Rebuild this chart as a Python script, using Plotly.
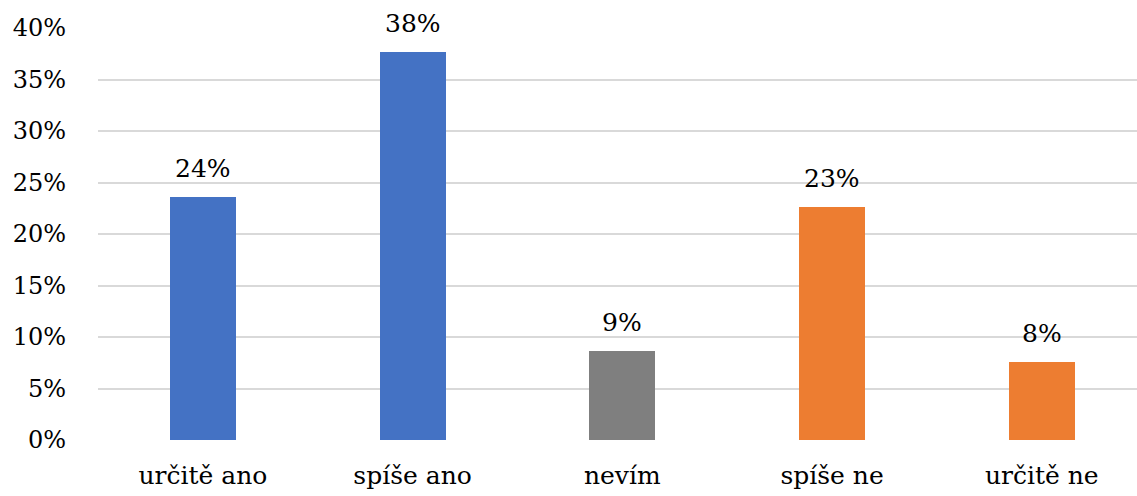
import plotly.graph_objects as go

# Survey answers and their shares
categories = ["určitě ano", "spíše ano", "nevím", "spíše ne", "určitě ne"]
shares = [0.236, 0.377, 0.086, 0.226, 0.076]
bar_colors = ["#4472C4", "#4472C4", "#7F7F7F", "#ED7D31", "#ED7D31"]
tick_values = [0, 0.05, 0.10, 0.15, 0.20, 0.25, 0.30, 0.35, 0.40]
tick_labels = ["0%", "5%", "10%", "15%", "20%", "25%", "30%", "35%", "40%"]

FONT = "DejaVu Serif"

fig = go.Figure(
    go.Bar(
        x=categories,
        y=shares,
        marker=dict(color=bar_colors, line=dict(width=0)),
        width=0.315,
        hoverinfo="skip",
    )
)

# Value labels above each bar
for cat, val in zip(categories, shares):
    fig.add_annotation(
        x=cat, y=val, text=f"{val:.0%}", showarrow=False,
        yanchor="bottom", yshift=12,
        font=dict(family=FONT, size=25, color="#000000"),
    )

fig.update_layout(
    width=1137, height=496,
    margin=dict(l=98, r=0, t=28, b=56),
    plot_bgcolor="#FFFFFF", paper_bgcolor="#FFFFFF",
    showlegend=False,
    font=dict(family=FONT, size=24, color="#000000"),
    bargap=0,
)
fig.update_xaxes(
    range=[-0.5, 4.454], showgrid=False, showline=False, zeroline=False,
    ticks="", tickfont=dict(family=FONT, size=25, color="#000000"),
    ticklabelstandoff=18,
)
fig.update_yaxes(
    range=[0, 0.40], tickvals=tick_values, ticktext=tick_labels,
    showgrid=True, gridcolor="#D9D9D9", gridwidth=2,
    zeroline=False, showline=False, ticks="",
    tickfont=dict(family=FONT, size=24, color="#000000"),
    ticklabelstandoff=31,
)

fig.write_html("out.html")
